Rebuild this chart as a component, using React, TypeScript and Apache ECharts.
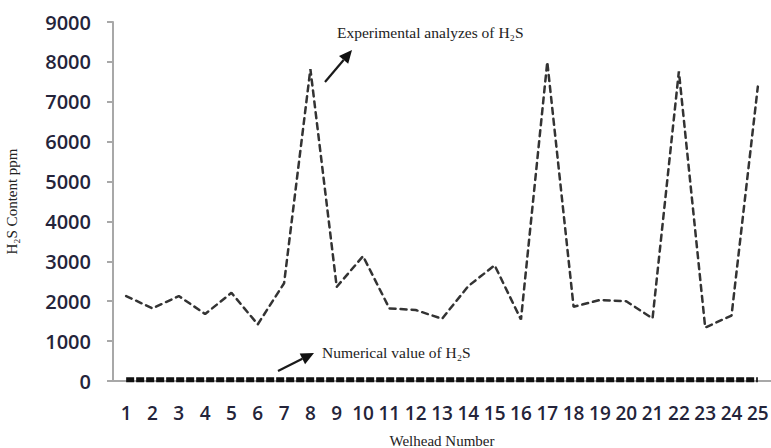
import React, { useEffect, useRef } from "react";
import * as echarts from "echarts";

const categories = ["1","2","3","4","5","6","7","8","9","10","11","12","13","14","15","16","17","18","19","20","21","22","23","24","25"];
const experimental = [2130, 1820, 2130, 1680, 2210, 1420, 2450, 7820, 2360, 3130, 1820, 1780, 1560, 2380, 2900, 1540, 8000, 1860, 2030, 2000, 1570, 7760, 1340, 1640, 7380];
const numerical = [30, 30, 30, 30, 30, 30, 30, 30, 30, 30, 30, 30, 30, 30, 30, 30, 30, 30, 30, 30, 30, 30, 30, 30, 30];
const yTicks = { min: 0, max: 9000, interval: 1000 };

function arrow(x1: number, y1: number, x2: number, y2: number) {
  const ang = Math.atan2(y2 - y1, x2 - x1);
  const len = 13;
  const half = 6;
  const bx = x2 - len * Math.cos(ang);
  const by = y2 - len * Math.sin(ang);
  const px = -Math.sin(ang) * half;
  const py = Math.cos(ang) * half;
  return [
    {
      type: "line",
      shape: { x1, y1, x2: bx, y2: by },
      style: { stroke: "#1a1a1a", lineWidth: 2.2 },
    },
    {
      type: "polygon",
      shape: { points: [[x2, y2], [bx + px, by + py], [bx - px, by - py]] },
      style: { fill: "#111" },
    },
  ];
}

export default function App() {
  const ref = useRef<HTMLDivElement>(null);
  useEffect(() => {
    if (!ref.current) return;
    const chart = echarts.init(ref.current, null, { renderer: "svg" });
    const serif = "'Liberation Serif', 'DejaVu Serif', serif";
    chart.setOption({
      animation: false,
      backgroundColor: "#fff",
      grid: { left: 113, right: 0, top: 22, bottom: 67, outerBoundsMode: "none", containLabel: false },
      xAxis: {
        type: "category",
        data: categories,
        boundaryGap: true,
        name: "Welhead Number",
        nameLocation: "middle",
        nameGap: 52,
        nameTextStyle: { fontFamily: serif, fontSize: 15, color: "#222" },
        axisLine: { lineStyle: { color: "#a8a8a8", width: 2 } },
        axisTick: { show: false },
        axisLabel: {
          interval: 0,
          margin: 22,
          fontFamily: "'Open Sans', sans-serif",
          fontSize: 19,
          fontWeight: 600,
          color: "#24243a",
        },
        splitLine: { show: false },
      },
      yAxis: {
        type: "value",
        min: yTicks.min,
        max: yTicks.max,
        interval: yTicks.interval,
        name: "H₂S Content ppm",
        nameLocation: "middle",
        nameGap: 94,
        nameRotate: 90,
        nameTextStyle: { fontFamily: serif, fontSize: 15, color: "#222" },
        axisLine: { show: true, lineStyle: { color: "#a8a8a8", width: 2 } },
        axisTick: { show: true, length: 6, lineStyle: { color: "#a8a8a8", width: 2 } },
        axisLabel: {
          margin: 22,
          formatter: (v: number) => String(v),
          fontFamily: "'Open Sans', sans-serif",
          fontSize: 20,
          fontWeight: 600,
          color: "#24243a",
        },
        splitLine: { show: false },
      },
      series: [
        {
          name: "Experimental analyzes of H₂S",
          type: "line",
          data: experimental,
          symbol: "none",
          lineStyle: { color: "#333", width: 2.5, type: [6, 5], cap: "round" },
        },
        {
          name: "Numerical value of H₂S",
          type: "line",
          data: numerical,
          symbol: "none",
          lineStyle: { color: "#111", width: 5, type: [8, 2] },
        },
      ],
      graphic: [
        {
          type: "text",
          left: 337,
          top: 24,
          style: { text: "Experimental analyzes of H₂S", font: `15.5px ${serif}`, fill: "#222" },
        },
        {
          type: "text",
          left: 322,
          top: 344,
          style: { text: "Numerical value of H₂S", font: `15.5px ${serif}`, fill: "#222" },
        },
        ...arrow(325, 82, 352, 50),
        ...arrow(278, 371, 314, 353),
      ],
    });
    return () => chart.dispose();
  }, []);
  return (
    <div
      ref={ref}
      style={{ position: "fixed", left: 0, top: 0, width: 771, height: 448, background: "#fff" }}
    />
  );
}
